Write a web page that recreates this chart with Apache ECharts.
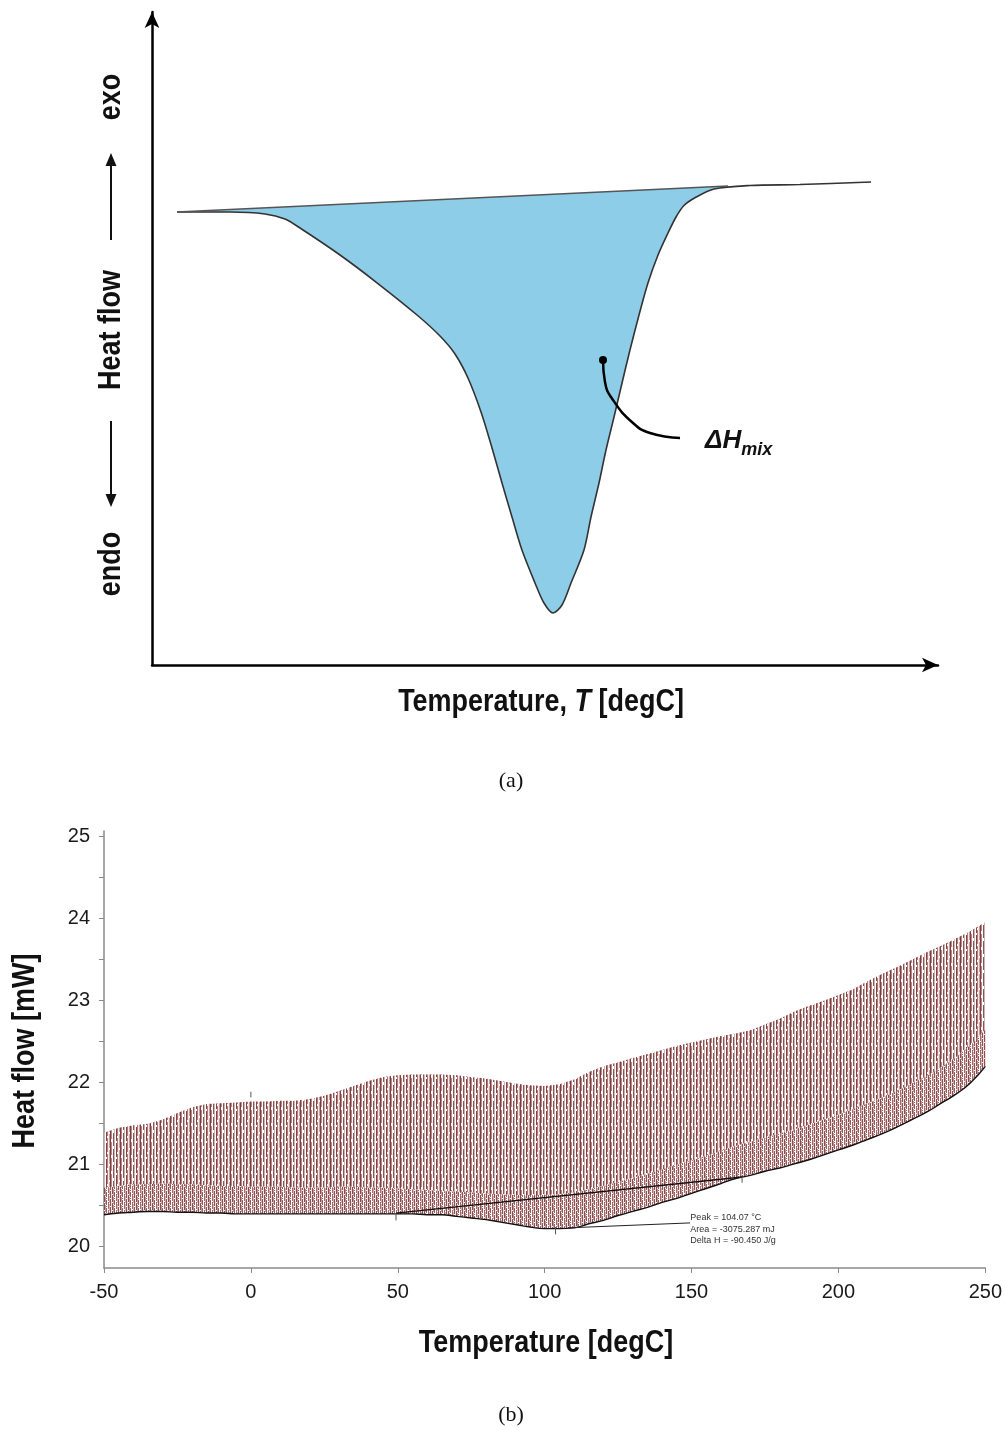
<!DOCTYPE html>
<html>
<head>
<meta charset="utf-8">
<title>DSC heat flow</title>
<script src="https://cdn.jsdelivr.net/npm/echarts@6/dist/echarts.min.js"></script>
<style>
html, body { margin: 0; padding: 0; background: #fff; }
#main { width: 1005px; height: 1430px; }
</style>
</head>
<body>
<div id="main"></div>
<script>
// ---- (a) schematic, arbitrary units 0..100 on both axes
var curveX = [3.18, 9.92, 14.38, 16.92, 18.83, 23.92, 28.50, 33.72, 36.64, 38.55, 40.20, 41.86, 43.26, 44.53, 45.80, 47.07, 48.73, 49.87, 51.02, 52.16, 53.31, 54.96, 55.85, 56.87, 57.76, 58.78, 59.80, 60.81, 61.96, 63.10, 64.38, 65.65, 66.67, 67.68, 69.08, 71.50, 76.08, 82.44, 91.48];
var curveY = [69.37, 69.37, 69.07, 68.30, 66.92, 62.79, 58.65, 53.60, 50.38, 47.63, 43.95, 38.74, 33.23, 27.87, 22.66, 17.61, 12.56, 9.49, 7.96, 9.19, 12.56, 17.61, 22.66, 27.87, 32.92, 37.98, 43.19, 48.24, 53.60, 58.50, 62.79, 66.16, 68.61, 70.37, 71.55, 72.89, 73.43, 73.58, 73.97];
var baseA = [[3.18, 69.37], [73.28, 73.35]];
var leaderX = [57.38, 57.63, 58.65, 61.20, 63.36, 67.18];
var leaderY = [46.71, 43.34, 40.58, 37.06, 35.53, 34.76];
var labelA = [70.36, 34.3];

// ---- (b) modulated DSC run
var tempB = [-50, -45, -40, -35, -30, -25, -20, -15, -10, -5, 0, 5, 10, 15, 20, 25, 30, 35, 40, 45, 50, 55, 60, 65, 70, 75, 80, 85, 90, 95, 100, 105, 110, 115, 120, 125, 130, 135, 140, 145, 150, 155, 160, 165, 170, 175, 180, 185, 190, 195, 200, 205, 210, 215, 220, 225, 230, 235, 240, 245, 250];
var upperB = [21.39, 21.45, 21.48, 21.50, 21.55, 21.63, 21.70, 21.74, 21.75, 21.76, 21.77, 21.77, 21.78, 21.78, 21.80, 21.84, 21.90, 21.96, 22.02, 22.07, 22.09, 22.10, 22.10, 22.10, 22.09, 22.07, 22.05, 22.02, 21.99, 21.97, 21.96, 21.98, 22.04, 22.13, 22.20, 22.25, 22.30, 22.35, 22.40, 22.45, 22.49, 22.53, 22.57, 22.60, 22.64, 22.71, 22.78, 22.87, 22.94, 23.00, 23.07, 23.14, 23.24, 23.33, 23.41, 23.50, 23.59, 23.67, 23.76, 23.85, 23.96];
var denseB = [20.72, 20.74, 20.76, 20.76, 20.77, 20.76, 20.76, 20.75, 20.74, 20.74, 20.73, 20.73, 20.73, 20.72, 20.72, 20.72, 20.73, 20.73, 20.72, 20.72, 20.71, 20.70, 20.69, 20.68, 20.67, 20.66, 20.65, 20.64, 20.63, 20.63, 20.63, 20.64, 20.66, 20.70, 20.74, 20.79, 20.84, 20.89, 20.94, 21.00, 21.05, 21.11, 21.17, 21.23, 21.28, 21.33, 21.38, 21.43, 21.49, 21.55, 21.61, 21.68, 21.75, 21.82, 21.90, 21.99, 22.08, 22.19, 22.31, 22.46, 22.65];
var lowerB = [20.39, 20.41, 20.42, 20.43, 20.43, 20.42, 20.42, 20.41, 20.41, 20.40, 20.40, 20.40, 20.40, 20.40, 20.40, 20.40, 20.40, 20.40, 20.40, 20.40, 20.40, 20.40, 20.39, 20.39, 20.37, 20.35, 20.33, 20.30, 20.27, 20.24, 20.22, 20.22, 20.23, 20.28, 20.32, 20.38, 20.43, 20.48, 20.54, 20.59, 20.65, 20.71, 20.77, 20.83, 20.87, 20.92, 20.96, 21.01, 21.06, 21.12, 21.18, 21.24, 21.31, 21.38, 21.46, 21.55, 21.64, 21.75, 21.86, 22.00, 22.20];
var intBaseB = [[49.4, 20.41], [167.2, 20.85]];
var marksB = [[0, 21.82, 21.89], [49.4, 20.32, 20.41], [103.7, 20.15, 20.24], [167.2, 20.78, 20.85]];
var peakLeader = [[108.1, 20.23], [149.5, 20.29]];
var peakLabelAt = [149.6, 20.21];
var peakText = ['Peak = 104.07 °C', 'Area = -3075.287 mJ', 'Delta H = -90.450 J/g'];
var yLabelsB = [20, 21, 22, 23, 24, 25];
var yTicksB = [20, 20.5, 21, 21.5, 22, 22.5, 23, 23.5, 24, 24.5, 25];

var sans = '"Liberation Sans", Arial, sans-serif';
var serif = '"Liberation Serif", "Times New Roman", serif';
var titleFont = 'bold 31px ' + sans;
var squeeze = 0.87;   // the titles are set in a condensed bold face

// stripe textures that stand in for the dense modulation strokes
function stripes(cols, h, holes) {
    var c = document.createElement('canvas');
    c.width = cols.length;
    c.height = h;
    var g = c.getContext('2d');
    cols.forEach(function (col, i) {
        g.fillStyle = col;
        g.fillRect(i, 0, 1, h);
    });
    g.fillStyle = '#ffffff';
    holes.forEach(function (p) { g.fillRect(p[0], p[1], 1, p[2]); });
    return c;
}
var sparse = stripes(
    ['#7d4040', '#b88686', '#ffffff', '#8f5353', '#d2b3b3', '#ffffff', '#844444', '#b07c7c', '#f4eaea', '#c9a1a1'],
    16, [[1, 3, 3], [3, 10, 3], [6, 5, 2], [9, 12, 2], [7, 0, 2]]);
var dense = stripes(
    ['#8a4c4c', '#c49494', '#9a6060', '#ffffff', '#a66e6e', '#d4b0b0', '#8e5050', '#ecdcdc'],
    8, [[0, 2, 1], [2, 5, 1], [4, 1, 1], [6, 6, 1], [1, 4, 1], [5, 3, 1], [7, 0, 1], [2, 7, 1]]);

function band(top, bottom, tex) {
    return function (params, api) {
        var pts = [];
        for (var i = 0; i < tempB.length; i++) pts.push(api.coord([tempB[i], top[i]]));
        for (var j = tempB.length - 1; j >= 0; j--) pts.push(api.coord([tempB[j], bottom[j]]));
        return { type: 'polygon', shape: { points: pts }, style: { fill: { image: tex, repeat: 'repeat' } } };
    };
}

function title(text, x, y, vertical, rich) {
    var el = {
        type: 'text', x: x, y: y, scaleX: squeeze,
        style: { text: text, font: titleFont, fill: '#111', align: 'center', verticalAlign: 'middle' }
    };
    if (vertical) el.rotation = Math.PI / 2;
    if (rich) el.style.rich = rich;
    return el;
}

var chart = echarts.init(document.getElementById('main'), null, { renderer: 'canvas' });

var gray = '#8a8a8a';
var option = {
    animation: false,
    backgroundColor: '#fff',
    grid: [
        { left: 152, top: 12, width: 786, height: 653 },
        { left: 104, top: 831, width: 884, height: 437 }
    ],
    xAxis: [
        {
            gridIndex: 0, type: 'value', min: 0, max: 100, z: 10,
            axisLine: { show: true, symbol: ['none', 'arrow'], symbolSize: [11, 16], lineStyle: { color: '#000', width: 2.5 } },
            axisTick: { show: false }, axisLabel: { show: false }, splitLine: { show: false }
        },
        {
            gridIndex: 1, type: 'value', min: -50, max: 250, interval: 50,
            axisLine: { show: true, onZero: false, lineStyle: { color: gray, width: 1.5 } },
            axisTick: { show: true, length: 5, lineStyle: { color: gray } },
            axisLabel: { fontFamily: sans, fontSize: 20, color: '#1a1a1a', margin: 14 },
            splitLine: { show: false }
        }
    ],
    yAxis: [
        {
            gridIndex: 0, type: 'value', min: 0, max: 100, z: 10,
            axisLine: { show: true, symbol: ['none', 'arrow'], symbolSize: [11, 16], lineStyle: { color: '#000', width: 2.5 } },
            axisTick: { show: false }, axisLabel: { show: false }, splitLine: { show: false }
        },
        {
            gridIndex: 1, type: 'value', min: 19.74, max: 25.07,
            axisLine: { show: true, onZero: false, lineStyle: { color: gray, width: 1.5 } },
            axisTick: { show: true, length: 5, customValues: yTicksB, lineStyle: { color: gray } },
            axisLabel: { customValues: yLabelsB, fontFamily: sans, fontSize: 20, color: '#1a1a1a', margin: 14 },
            splitLine: { show: false }
        }
    ],
    graphic: [
        title('exo', 111, 97, true),
        title('Heat flow', 111, 330, true),
        title('endo', 111, 564, true),
        { type: 'line', shape: { x1: 111, y1: 240, x2: 111, y2: 162 }, style: { stroke: '#111', lineWidth: 2 } },
        { type: 'polygon', shape: { points: [[111, 153], [105.5, 166], [116.5, 166]] }, style: { fill: '#111' } },
        { type: 'line', shape: { x1: 111, y1: 421, x2: 111, y2: 498 }, style: { stroke: '#111', lineWidth: 2 } },
        { type: 'polygon', shape: { points: [[111, 507], [105.5, 494], [116.5, 494]] }, style: { fill: '#111' } },
        title('{b|Temperature, }{i|T}{b| [degC]}', 541, 702, false, {
            b: { font: titleFont, fill: '#111' },
            i: { font: 'italic ' + titleFont, fill: '#111' }
        }),
        title('Temperature [degC]', 546, 1343, false),
        title('Heat flow [mW]', 25, 1051, true),
        { type: 'text', x: 511, y: 781, style: { text: '(a)', font: '22px ' + serif, fill: '#111', align: 'center', verticalAlign: 'middle' } },
        { type: 'text', x: 511, y: 1415, style: { text: '(b)', font: '22px ' + serif, fill: '#111', align: 'center', verticalAlign: 'middle' } }
    ],
    series: [
        // (a): blue below the integration baseline, then the curve's own white area hides what lies under it
        {
            type: 'line', xAxisIndex: 0, yAxisIndex: 0, z: 2, symbol: 'none',
            data: baseA, lineStyle: { width: 0 },
            areaStyle: { color: '#8ecde8', opacity: 1 }
        },
        {
            type: 'line', xAxisIndex: 0, yAxisIndex: 0, z: 3, symbol: 'none', smooth: 0.3,
            data: curveX.map(function (x, i) { return [x, curveY[i]]; }),
            lineStyle: { color: '#333', width: 1.6 },
            areaStyle: { color: '#ffffff', opacity: 1 }
        },
        {
            type: 'line', xAxisIndex: 0, yAxisIndex: 0, z: 4, symbol: 'none',
            data: baseA, lineStyle: { color: '#555', width: 1.6 }
        },
        {
            type: 'line', xAxisIndex: 0, yAxisIndex: 0, z: 4, symbol: 'none', smooth: true,
            data: leaderX.map(function (x, i) { return [x, leaderY[i]]; }),
            lineStyle: { color: '#000', width: 2.5 }
        },
        {
            type: 'scatter', xAxisIndex: 0, yAxisIndex: 0, z: 5, symbolSize: 8,
            itemStyle: { color: '#000', opacity: 1 },
            data: [[leaderX[0], leaderY[0]]]
        },
        {
            type: 'scatter', xAxisIndex: 0, yAxisIndex: 0, z: 5, symbolSize: 0,
            itemStyle: { opacity: 1 },
            data: [labelA],
            label: {
                show: true, position: 'right', distance: 0, color: '#111',
                formatter: '{d|ΔH}{s|mix}',
                rich: {
                    d: { fontFamily: sans, fontWeight: 'bold', fontStyle: 'italic', fontSize: 26, color: '#111', lineHeight: 36, verticalAlign: 'middle' },
                    s: { fontFamily: sans, fontWeight: 'bold', fontStyle: 'italic', fontSize: 18, color: '#111', lineHeight: 36, verticalAlign: 'bottom' }
                }
            }
        },
        // (b)
        {
            type: 'custom', xAxisIndex: 1, yAxisIndex: 1, z: 1, silent: true,
            data: [[tempB[0], lowerB[0]]],
            renderItem: band(upperB, denseB, sparse)
        },
        {
            type: 'custom', xAxisIndex: 1, yAxisIndex: 1, z: 1, silent: true,
            data: [[tempB[0], lowerB[0]]],
            renderItem: band(denseB, lowerB, dense)
        },
        {
            type: 'line', xAxisIndex: 1, yAxisIndex: 1, z: 3, symbol: 'none', smooth: true,
            data: tempB.map(function (t, i) { return [t, lowerB[i]]; }),
            lineStyle: { color: '#111', width: 1.4 }
        },
        {
            type: 'line', xAxisIndex: 1, yAxisIndex: 1, z: 3, symbol: 'none',
            data: intBaseB, lineStyle: { color: '#111', width: 1.3 }
        },
        {
            type: 'line', xAxisIndex: 1, yAxisIndex: 1, z: 3, symbol: 'none',
            data: peakLeader, lineStyle: { color: '#222', width: 1 }
        },
        {
            type: 'custom', xAxisIndex: 1, yAxisIndex: 1, z: 4, silent: true,
            data: marksB,
            renderItem: function (params, api) {
                var a = api.coord([api.value(0), api.value(1)]);
                var b = api.coord([api.value(0), api.value(2)]);
                return { type: 'line', shape: { x1: a[0], y1: a[1], x2: b[0], y2: b[1] }, style: { stroke: '#555', lineWidth: 1 } };
            }
        },
        {
            type: 'scatter', xAxisIndex: 1, yAxisIndex: 1, z: 5, symbolSize: 0,
            itemStyle: { opacity: 1 },
            data: [peakLabelAt],
            label: {
                show: true, position: 'right', distance: 0,
                formatter: peakText.join('\n'),
                fontFamily: sans, fontSize: 9, lineHeight: 11.5, color: '#333'
            }
        }
    ]
};
chart.setOption(option);
</script>
</body>
</html>
